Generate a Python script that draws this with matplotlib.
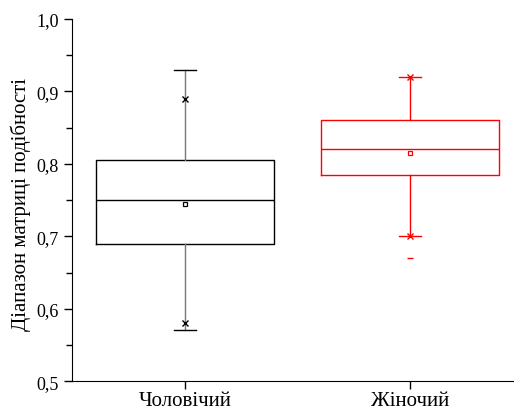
import numpy as np
import matplotlib.pyplot as plt
from matplotlib.ticker import MultipleLocator, FuncFormatter

categories = ["Чоловічий", "Жіночий"]
q1 = [0.69, 0.785]
med = [0.75, 0.82]
q3 = [0.805, 0.86]
mean = [0.744, 0.815]
whislo = [0.57, 0.70]
whishi = [0.93, 0.92]
p1 = [0.58, 0.70]
p99 = [0.89, 0.92]
mins = [None, 0.67]
colors = ["black", "red"]

def main():
    plt.rcParams["font.family"] = ["Liberation Serif", "DejaVu Serif"]
    fig = plt.figure(figsize=(5.14, 4.10), dpi=100)
    ax = fig.add_axes([0.140, 0.068, 0.86, 0.883])

    for i in range(2):
        c = colors[i]
        wc = "#777777" if c == "black" else c
        stats = [{"med": med[i], "q1": q1[i], "q3": q3[i],
                  "whislo": whislo[i], "whishi": whishi[i], "fliers": []}]
        ax.bxp(stats, positions=[i + 1], widths=0.79, showfliers=False,
               capwidths=0.1,
               boxprops=dict(color=c, linewidth=1),
               medianprops=dict(color=c, linewidth=1),
               whiskerprops=dict(color=wc, linewidth=1),
               capprops=dict(color=c, linewidth=1))
        ax.plot(i + 1, mean[i], "s", ms=3.5, mfc="white", mec=c, mew=0.9)
        ax.plot([i + 1, i + 1], [p1[i], p99[i]], "x", ms=4, color=c, mew=1)
        if mins[i] is not None:
            ax.plot(i + 1, mins[i], "_", ms=5, color=c, mew=1)

    ax.set_xlim(0.498, 2.462)
    ax.set_ylim(0.5, 1.0)
    ax.set_xticks([1, 2])
    ax.set_xticklabels(categories, fontsize=15)
    ax.yaxis.set_major_locator(MultipleLocator(0.1))
    ax.yaxis.set_minor_locator(MultipleLocator(0.05))
    ax.yaxis.set_major_formatter(FuncFormatter(lambda v, p: f"{v:.1f}".replace(".", ",")))
    ax.tick_params(axis="y", labelsize=13, length=6, width=1)
    ax.tick_params(axis="y", which="minor", length=4, width=1)
    ax.tick_params(axis="x", length=6, width=1, pad=1)
    ax.spines["top"].set_visible(False)
    ax.spines["right"].set_visible(False)
    ax.set_ylabel("Діапазон матриці подібності", fontsize=15, labelpad=4)
    ax.yaxis.label.set_y(0.49)

    fig.savefig("out.png", dpi=100)

if __name__ == "__main__":
    main()
